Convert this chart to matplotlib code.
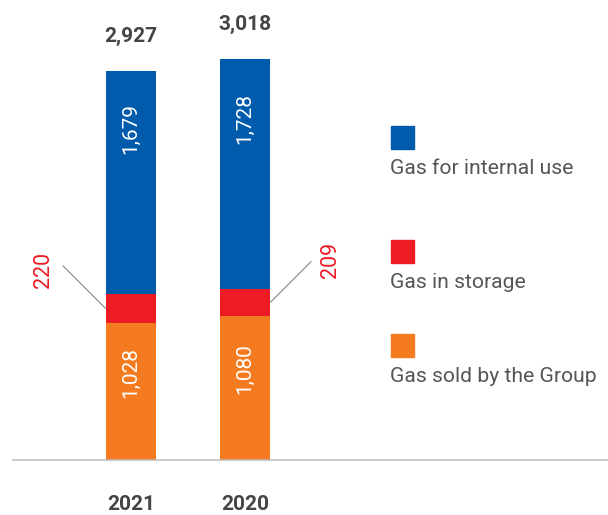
import matplotlib
matplotlib.use("Agg")
import matplotlib.pyplot as plt
from matplotlib.patches import Rectangle

plt.rcParams['font.family'] = ['Roboto', 'DejaVu Sans']

anios = ["2021", "2020"]
vendido = [1028, 1080]
almacenado = [220, 209]
uso_interno = [1679, 1728]
totales = [2927, 3018]
leyenda = ["Gas for internal use", "Gas in storage", "Gas sold by the Group"]

AZUL = "#005BAC"
ROJO = "#ED1C24"
NARANJA = "#F47B20"
GRIS = "#444444"

W, H = 608, 515
fig = plt.figure(figsize=(W / 100, H / 100), dpi=100)
ax = fig.add_axes([13 / W, 55 / H, (W - 13) / W, 460 / H])

x = list(range(len(anios)))
ancho = 0.44
base_rojo = vendido
base_azul = [v + a for v, a in zip(vendido, almacenado)]

b1 = ax.bar(x, vendido, ancho, color=NARANJA)
b2 = ax.bar(x, almacenado, ancho, bottom=base_rojo, color=ROJO)
b3 = ax.bar(x, uso_interno, ancho, bottom=base_azul, color=AZUL)

ax.set_xlim(-1.035, 4.184)
ax.set_ylim(0, 3461)

# etiquetas dentro de las barras
for i in x:
    ax.text(i, vendido[i] * 0.64, f"{vendido[i]:,}", rotation=90, ha="center", va="center",
            color="white", fontsize=15)
    ax.text(i, base_azul[i] + uso_interno[i] * 0.74, f"{uso_interno[i]:,}", rotation=90,
            ha="center", va="center", color="white", fontsize=15)
    ax.annotate(f"{totales[i]:,}", (i, totales[i]), xytext=(0, 25), textcoords="offset points",
                ha="center", va="center", fontsize=15, fontweight="bold", color=GRIS)

# etiquetas del gas almacenado con linea guia
lado = [-1, 1]
linea = [(-31, 31), (29.5, 29.5)]
texto = [(-44.6, 28), (43.2, 31)]
for i in x:
    borde = (i + lado[i] * ancho / 2, base_rojo[i] + almacenado[i] / 2)
    ax.annotate("", xy=borde, xytext=linea[i], textcoords="offset points",
                arrowprops=dict(arrowstyle="-", color="#888888", lw=0.8, shrinkA=0, shrinkB=0))
    ax.annotate(f"{almacenado[i]:,}", borde, xytext=texto[i], textcoords="offset points",
                rotation=90, ha="center", va="center", color=ROJO, fontsize=15.5)

ax.set_xticks(x)
ax.set_xticklabels(anios, fontsize=15, fontweight="bold", color=GRIS)
ax.tick_params(axis="x", length=0, pad=25)
ax.set_yticks([])
for s in ["top", "right", "left"]:
    ax.spines[s].set_visible(False)
ax.spines["bottom"].set_color("#BBBBBB")
ax.spines["bottom"].set_linewidth(1.1)

# leyenda
colores = [AZUL, ROJO, NARANJA]
cuadros_y = [126, 240, 334]
textos_y = [169, 282, 377]
for col, cy, ty, etiqueta in zip(colores, cuadros_y, textos_y, leyenda):
    fig.patches.append(Rectangle((391 / W, 1 - (cy + 23) / H), 23 / W, 23 / H,
                                 transform=fig.transFigure, color=col))
    fig.text(390 / W, 1 - ty / H, etiqueta, ha="left", va="center", fontsize=15.2, color="#555555")

plt.savefig("out.png", dpi=100)
plt.close()
